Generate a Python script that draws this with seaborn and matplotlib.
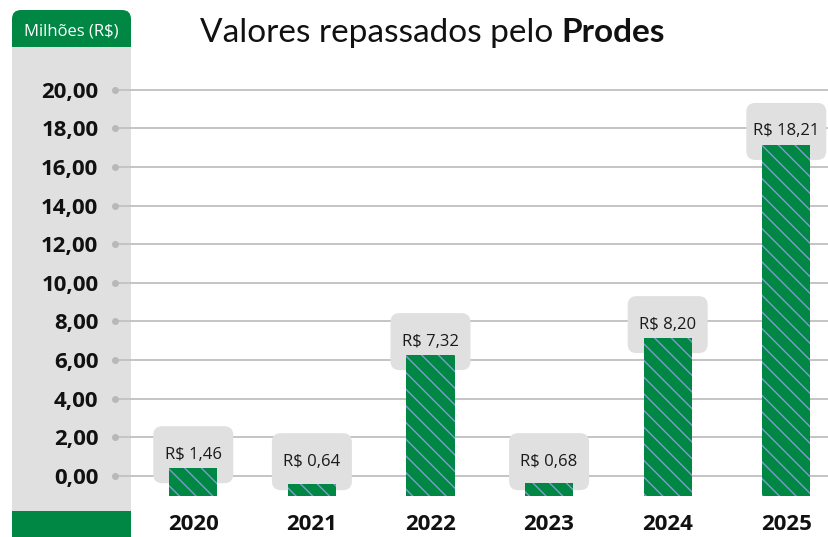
import numpy as np
import matplotlib
matplotlib.use("Agg")
import matplotlib.pyplot as plt
import seaborn as sns
from matplotlib.patches import FancyBboxPatch, Rectangle

# dados do gráfico
anos = ["2020", "2021", "2022", "2023", "2024", "2025"]
valores = [1.46, 0.64, 7.32, 0.68, 8.20, 18.21]
rotulos = ["R$ 1,46", "R$ 0,64", "R$ 7,32", "R$ 0,68", "R$ 8,20", "R$ 18,21"]
ticks_y = [0, 2, 4, 6, 8, 10, 12, 14, 16, 18, 20]
ticks_y_txt = ["0,00", "2,00", "4,00", "6,00", "8,00", "10,00",
               "12,00", "14,00", "16,00", "18,00", "20,00"]

VERDE = "#008744"
CINZA = "#e0e0e0"
HACHURA = "#7f9dcc"
BASE = -1.05

sns.set_style("white")
plt.rcParams["font.family"] = ["Open Sans", "DejaVu Sans"]
plt.rcParams["hatch.linewidth"] = 1.0

W, H = 829, 537
fig = plt.figure(figsize=(W / 100, H / 100), dpi=100)

# painel cinza à esquerda (coordenadas em pixels)
bg = fig.add_axes([0, 0, 1, 1], zorder=0)
bg.set_xlim(0, W)
bg.set_ylim(H, 0)
bg.axis("off")
bg.add_patch(Rectangle((12, 30), 119, 520, fc=CINZA, ec="none"))
bg.add_patch(FancyBboxPatch((12, 10), 119, 37, boxstyle="round,pad=0,rounding_size=9",
                            fc=VERDE, ec="none"))
bg.add_patch(Rectangle((12, 28), 119, 19, fc=VERDE, ec="none"))
bg.add_patch(FancyBboxPatch((12, 511), 119, 40, boxstyle="round,pad=0,rounding_size=9",
                            fc=VERDE, ec="none"))
bg.add_patch(Rectangle((12, 511), 119, 15, fc=VERDE, ec="none"))
bg.text(71.5, 31, "Milhões (R$)", color="white", fontsize=12, ha="center", va="center")

# título com parte em negrito
t1 = bg.text(200, 33, "Valores repassados pelo ", fontsize=24, family=["Lato", "DejaVu Sans"],
             ha="left", va="center", color="#111111")
fig.canvas.draw()
bb = t1.get_window_extent()
bg.text(bb.x1, 33, "Prodes", fontsize=24, family=["Lato", "DejaVu Sans"], fontweight="bold",
        ha="left", va="center", color="#111111")

# eixo principal
px_unit = 19.3
ax = fig.add_axes([115 / W, 41 / H, (W - 115) / W, 436 / H], zorder=1)
ax.patch.set_alpha(0)

sns.barplot(x=anos, y=valores, ax=ax, color=VERDE, width=0.405, bottom=BASE,
            hatch="\\\\", edgecolor=HACHURA, linewidth=0, saturation=1, zorder=2)

ax.set_xlim(-0.66, 5.36)
ax.set_ylim(BASE, BASE + 436 / px_unit)

for y in ticks_y:
    ax.axhline(y, color="#c4c4c4", lw=1.4, zorder=0)
ax.plot([-0.66] * len(ticks_y), ticks_y, "o", ms=4, color="#b8b8b8", clip_on=False, zorder=3)

ax.set_yticks(ticks_y)
ax.set_yticklabels(ticks_y_txt, fontsize=16, fontweight="bold", color="#111111")
ax.tick_params(axis="y", length=0, pad=12)
ax.set_xticks(range(len(anos)))
ax.set_xticklabels(anos, fontsize=16, fontweight="bold", color="#111111")
ax.tick_params(axis="x", length=0, pad=13)
ax.set_xlabel("")
ax.set_ylabel("")
for s in ax.spines.values():
    s.set_visible(False)

# caixas dos rótulos
bw = 80 / 118.6
bh = 57 / px_unit
raio = 9 / 118.6
aspecto = (9 / px_unit) / raio
for i, (v, r) in enumerate(zip(valores, rotulos)):
    topo = BASE + v
    cy = max(topo + 0.68, 0.73)
    ax.add_patch(FancyBboxPatch((i - bw / 2, cy - bh / 2), bw, bh,
                                boxstyle=f"round,pad=0,rounding_size={raio}",
                                mutation_aspect=aspecto, fc=CINZA, ec="none", zorder=1))
    ax.text(i, cy, r, ha="center", va="center", fontsize=12, color="#1a1a1a", zorder=3)

fig.savefig("out.png", dpi=100)
